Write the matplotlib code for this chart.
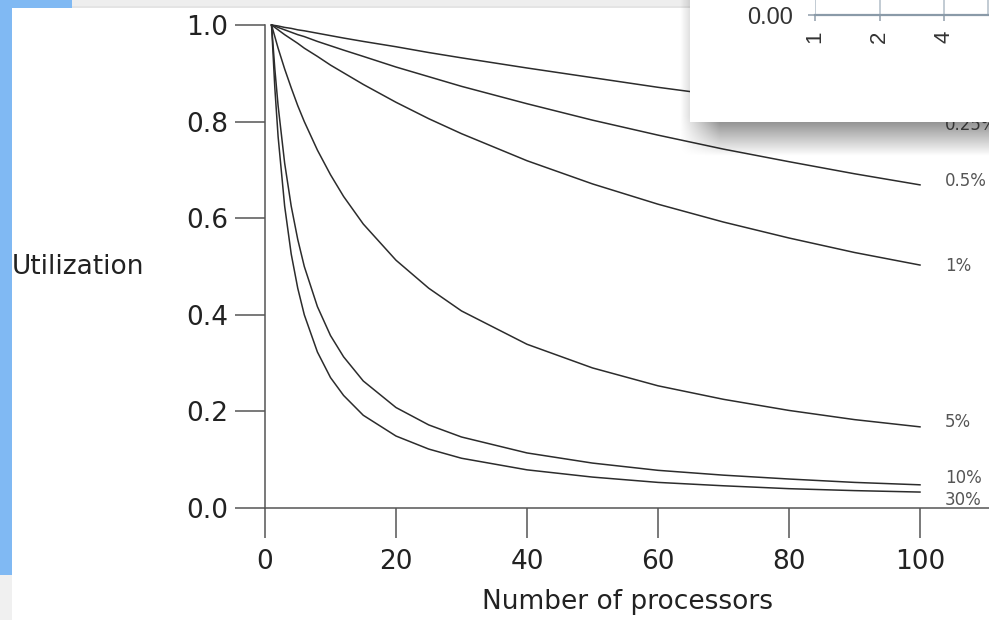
import numpy as np
import matplotlib.pyplot as plt
from matplotlib.patches import Rectangle

# Количество процессоров и утилизация
processors = [1, 1.5, 2, 3, 4, 5, 6, 8, 10, 12, 15, 20, 25, 30, 40, 50, 60, 70, 80, 90, 100]

util_025 = [1.000, 0.999, 0.998, 0.995, 0.993, 0.990, 0.988, 0.983, 0.978, 0.973, 0.966,
            0.955, 0.943, 0.932, 0.911, 0.891, 0.871, 0.853, 0.835, 0.818, 0.802]
util_05 = [1.000, 0.998, 0.995, 0.990, 0.985, 0.980, 0.976, 0.966, 0.957, 0.948, 0.935,
           0.913, 0.893, 0.873, 0.837, 0.803, 0.772, 0.743, 0.717, 0.692, 0.669]
util_1 = [1.000, 0.995, 0.990, 0.980, 0.971, 0.962, 0.952, 0.935, 0.917, 0.901, 0.877,
          0.840, 0.806, 0.775, 0.719, 0.671, 0.629, 0.592, 0.559, 0.529, 0.503]
util_5 = [1.000, 0.976, 0.952, 0.909, 0.870, 0.833, 0.800, 0.741, 0.690, 0.645, 0.588,
          0.513, 0.455, 0.408, 0.339, 0.290, 0.253, 0.225, 0.202, 0.183, 0.168]
util_10 = [1.000, 0.909, 0.833, 0.714, 0.625, 0.556, 0.500, 0.417, 0.357, 0.313, 0.263,
           0.208, 0.172, 0.147, 0.114, 0.093, 0.078, 0.068, 0.060, 0.053, 0.048]
util_30 = [1.000, 0.870, 0.769, 0.625, 0.526, 0.455, 0.400, 0.323, 0.270, 0.233, 0.192,
           0.149, 0.122, 0.103, 0.079, 0.064, 0.053, 0.046, 0.040, 0.036, 0.033]

series = [util_025, util_05, util_1, util_5, util_10, util_30]
curve_labels = ['0.25%', '0.5%', '1%', '5%', '10%', '30%']
label_y = [0.793, 0.677, 0.501, 0.178, 0.062, 0.017]

x_ticks = [0, 20, 40, 60, 80, 100]
y_ticks = [0.0, 0.2, 0.4, 0.6, 0.8, 1.0]

# окно поверх графика (кусок другого графика)
inset_ticks = [1, 2, 4]

W, H = 989, 620
fig = plt.figure(figsize=(W / 100, H / 100), dpi=100)

# фон: синие и серые полосы по краям
bg = fig.add_axes([0, 0, 1, 1], zorder=0)
bg.set_xlim(0, W)
bg.set_ylim(H, 0)
bg.axis('off')
bg.add_patch(Rectangle((0, 0), 72, 8, color='#80b9f3', lw=0))
bg.add_patch(Rectangle((0, 0), 12, 575, color='#80b9f3', lw=0))
bg.add_patch(Rectangle((0, 575), 12, 45, color='#f0f0f0', lw=0))
bg.add_patch(Rectangle((72, 0), W - 72, 8, color='#eeeeee', lw=0))
bg.add_patch(Rectangle((72, 6), W - 72, 2, color='#e4e4e4', lw=0))

# основной график
ax = fig.add_axes([265 / W, 112 / H, 724 / W, 483 / H], zorder=1)
ax.set_facecolor('none')
for vals in series:
    ax.plot(processors, vals, color='#2c2c2c', lw=1.1, clip_on=False)
for lab, yy in zip(curve_labels, label_y):
    ax.text(103.8, yy, lab, ha='left', va='center', fontsize=12, color='#555555',
            clip_on=False)

ax.set_xlim(0, 724 / 6.55)
ax.set_ylim(0, 1.0)
ax.spines['top'].set_visible(False)
ax.spines['right'].set_visible(False)
ax.spines['left'].set_bounds(0, 1.0)
for s in ['left', 'bottom']:
    ax.spines[s].set_color('#555555')
    ax.spines[s].set_linewidth(1.1)
ax.set_xticks(x_ticks)
ax.set_xticklabels([str(t) for t in x_ticks])
ax.set_yticks(y_ticks)
ax.set_yticklabels(['%.1f' % t for t in y_ticks])
ax.tick_params(axis='both', length=21.6, width=1.1, color='#555555',
               labelsize=19, labelcolor='#222222')
ax.tick_params(axis='x', pad=8)
ax.tick_params(axis='y', pad=5)
ax.set_xlabel('Number of processors', fontsize=19, color='#222222', labelpad=10)
ax.set_ylabel('Utilization', fontsize=19, color='#222222', rotation=0,
              ha='left', va='center')
ax.yaxis.set_label_coords(-253 / 724, 0.5)

# тень и белое окно
ov = fig.add_axes([0, 0, 1, 1], zorder=3)
ov.axis('off')
xs = np.arange(640, W) + 0.5
ys = np.arange(0, 180) + 0.5
X, Y = np.meshgrid(xs, ys)
a = 0.5 * np.clip((X - 680) / 40, 0, 1) * np.clip((156 - Y) / 40, 0, 1)
rgba = np.zeros((len(ys), len(xs), 4))
rgba[..., 3] = a
ov.imshow(rgba, extent=(640, W, 180, 0), interpolation='bilinear', aspect='auto')
ov.add_patch(Rectangle((690, 0), W - 690 + 2, 122, color='white', lw=0, zorder=5))
ov.set_xlim(0, W)
ov.set_ylim(H, 0)

ins = fig.add_axes([815 / W, (H - 15) / H, (W - 1 - 815) / W, 110 / H], zorder=4)
ins.set_facecolor('none')
ins.set_xscale('log', base=2)
ins.set_xticks(inset_ticks)
ins.set_xticklabels([str(t) for t in inset_ticks], rotation=90)
ins.set_xlim(1, 2 ** ((W - 1 - 815) / 64.5))
ins.set_ylim(0, 1)
ins.set_yticks([0])
ins.set_yticklabels(['0.00'])
ins.minorticks_off()
ins.grid(axis='x', color='#b8c2cc', lw=1.2)
for s in ['top', 'left']:
    ins.spines[s].set_visible(False)
ins.spines['right'].set_color('#b8c2cc')
ins.spines['right'].set_linewidth(1.2)
ins.spines['bottom'].set_color('#8a9aa8')
ins.spines['bottom'].set_linewidth(1.6)
ins.tick_params(axis='x', length=4, width=1.2, color='#9aa6b2', pad=7,
                labelsize=16, labelcolor='#333333')
ins.tick_params(axis='y', length=5, width=1.2, color='#9aa6b2', pad=11,
                labelsize=17, labelcolor='#333333')
for t in ins.get_xticklabels() + ins.get_yticklabels():
    t.set_fontfamily('Liberation Sans')

plt.savefig('out.png', dpi=100)
